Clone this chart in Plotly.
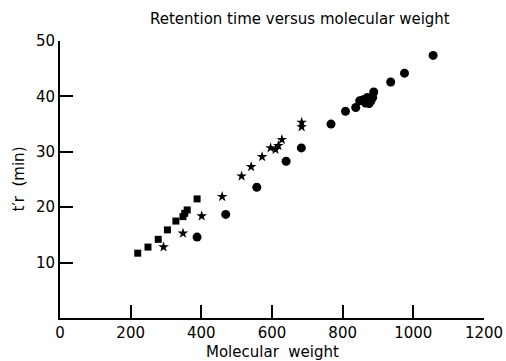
import plotly.graph_objects as go

# Series data (molecular weight, retention time t'r in min)
square_mw = [220, 249, 278, 304, 328, 348, 353, 360, 388]
square_tr = [11.7, 12.8, 14.2, 15.9, 17.5, 18.3, 18.9, 19.5, 21.5]

star_mw = [293, 348, 401, 459, 514, 541, 572, 596, 610, 618, 628, 684, 684]
star_tr = [12.8, 15.3, 18.4, 21.9, 25.6, 27.3, 29.1, 30.7, 30.4, 31.1, 32.2, 34.5, 35.3]

circle_mw = [388, 469, 557, 640, 683, 767, 808, 837, 848, 858, 865, 870, 875, 880, 885, 888, 936, 975, 1056]
circle_tr = [14.6, 18.7, 23.6, 28.3, 30.7, 35.0, 37.3, 38.0, 39.2, 39.4, 38.8, 39.8, 38.7, 39.2, 39.8, 40.8, 42.6, 44.2, 47.4]

x_ticks = [0, 200, 400, 600, 800, 1000, 1200]
y_ticks = [10, 20, 30, 40, 50]

FONT = "DejaVu Sans"

fig = go.Figure()
fig.add_trace(go.Scatter(x=square_mw, y=square_tr, mode="markers", showlegend=False,
                         marker=dict(symbol="square", size=7, color="black")))
fig.add_trace(go.Scatter(x=star_mw, y=star_tr, mode="markers", showlegend=False,
                         marker=dict(symbol="star", size=8, color="black")))
fig.add_trace(go.Scatter(x=circle_mw, y=circle_tr, mode="markers", showlegend=False,
                         marker=dict(symbol="circle", size=9, color="black")))

fig.update_layout(width=506, height=361, margin=dict(l=60, r=22, t=41, b=43),
                  plot_bgcolor="white", template="none")
fig.update_xaxes(range=[0, 1200], tickvals=x_ticks, ticks="inside", ticklen=13, tickwidth=2,
                 tickcolor="black", showline=True, linecolor="black", linewidth=2, showgrid=False,
                 tickfont=dict(family=FONT, size=15, color="black"))
fig.update_yaxes(range=[0, 50], tickvals=y_ticks, ticks="inside", ticklen=13, tickwidth=2,
                 tickcolor="black", showline=True, linecolor="black", linewidth=2, showgrid=False,
                 tickfont=dict(family=FONT, size=15, color="black"))

fig.add_annotation(text="Retention time versus molecular weight", xref="paper", yref="paper",
                   x=0.566, y=1.0, yshift=22, xanchor="center", yanchor="middle", showarrow=False,
                   font=dict(family=FONT, size=15, color="black"))
fig.add_annotation(text="Molecular  weight", xref="paper", yref="paper",
                   x=0.5, y=0.0, yshift=-34, xanchor="center", yanchor="middle", showarrow=False,
                   font=dict(family=FONT, size=15, color="black"))
fig.add_annotation(text="t\u2032r  (min)", xref="paper", yref="paper", textangle=-90,
                   x=0.0, y=0.5, xshift=-42, xanchor="center", yanchor="middle", showarrow=False,
                   font=dict(family=FONT, size=15, color="black"))

fig.write_html("out.html")
